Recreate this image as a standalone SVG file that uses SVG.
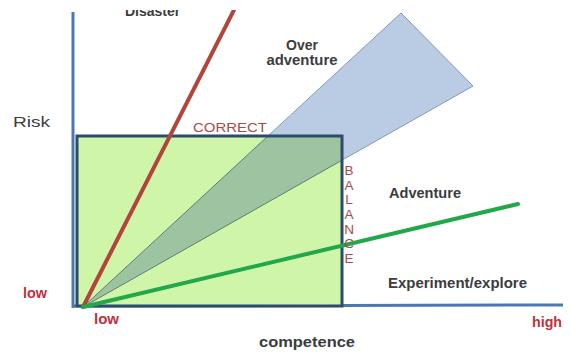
<svg xmlns="http://www.w3.org/2000/svg" width="571" height="353" viewBox="0 0 571 353">
  <style>
    .lbl { font-family: "Liberation Sans", Arial, sans-serif; fill: #3c3c3c; }
    .b { font-weight: bold; }
    .red { fill: #c0303c; font-weight: bold; font-size: 14px; }
    .brick { fill: #a84a4a; }
    .axis { stroke: #4a78b4; stroke-width: 3; fill: none; }
  </style>
  <defs>
    <clipPath id="view"><rect x="0" y="10" width="571" height="343"/></clipPath>
    <clipPath id="zone"><rect x="77" y="136" width="265" height="170"/></clipPath>
  </defs>
  <rect width="571" height="353" fill="#ffffff"/>

  <!-- axes -->
  <g id="axes">
    <line class="axis" x1="73" y1="12" x2="73" y2="308"/>
    <line class="axis" x1="72" y1="306" x2="563" y2="305"/>
  </g>

  <!-- over-adventure wedge -->
  <g id="wedge">
    <polygon points="83,307 401,13 473,86" fill="#b9cce4" stroke="#8299b6" stroke-width="1"/>
  </g>

  <!-- balanced zone -->
  <g id="zone-box">
    <rect x="77" y="136" width="265" height="170" fill="#cff6a8"/>
    <polygon points="83,307 401,13 473,86" fill="#9dc3a0" stroke="#5d7d76" stroke-width="1" clip-path="url(#zone)"/>
    <rect x="77" y="136" width="265" height="170" fill="none" stroke="#2d4b6c" stroke-width="3"/>
  </g>

  <!-- trend lines -->
  <g id="connectors" clip-path="url(#view)">
    <line x1="83" y1="307" x2="235" y2="8" stroke="#b2443c" stroke-width="4" stroke-linecap="round"/>
    <line x1="83" y1="307" x2="518" y2="204" stroke="#22a84a" stroke-width="4" stroke-linecap="round"/>
  </g>

  <!-- region labels -->
  <g id="disaster" clip-path="url(#view)">
    <text class="lbl b" x="125" y="16" font-size="14">Disaster</text>
  </g>
  <g id="over-adventure">
    <text class="lbl b" x="302" y="50" font-size="14" text-anchor="middle">Over</text>
    <text class="lbl b" x="302" y="65" font-size="14" text-anchor="middle" textLength="71" lengthAdjust="spacingAndGlyphs">adventure</text>
  </g>
  <g id="correct">
    <text class="lbl brick" x="193" y="132" font-size="13" textLength="74" lengthAdjust="spacingAndGlyphs">CORRECT</text>
  </g>
  <g id="balance" class="lbl brick" font-size="13.5" text-anchor="middle">
    <text x="349" y="175">B</text>
    <text x="349" y="189.7">A</text>
    <text x="349" y="204.3">L</text>
    <text x="349" y="219">A</text>
    <text x="349" y="233.7">N</text>
    <text x="349" y="248.3">C</text>
    <text x="349" y="263">E</text>
  </g>
  <g id="adventure">
    <text class="lbl b" x="389" y="198" font-size="14" textLength="72" lengthAdjust="spacingAndGlyphs">Adventure</text>
  </g>
  <g id="experiment">
    <text class="lbl b" x="388" y="288" font-size="14" textLength="139" lengthAdjust="spacingAndGlyphs">Experiment/explore</text>
  </g>

  <!-- axis labels -->
  <g id="risk">
    <text class="lbl" x="13" y="127" font-size="15" fill="#555555" textLength="37" lengthAdjust="spacingAndGlyphs">Risk</text>
  </g>
  <g id="competence">
    <text class="lbl b" x="259" y="347" font-size="14" textLength="96" lengthAdjust="spacingAndGlyphs">competence</text>
  </g>
  <g id="ticks" font-family="Liberation Sans, Arial, sans-serif">
    <text class="red" x="23" y="298" textLength="24" lengthAdjust="spacingAndGlyphs">low</text>
    <text class="red" x="94" y="324" textLength="25" lengthAdjust="spacingAndGlyphs">low</text>
    <text class="red" x="532" y="327" textLength="30" lengthAdjust="spacingAndGlyphs">high</text>
  </g>
</svg>
